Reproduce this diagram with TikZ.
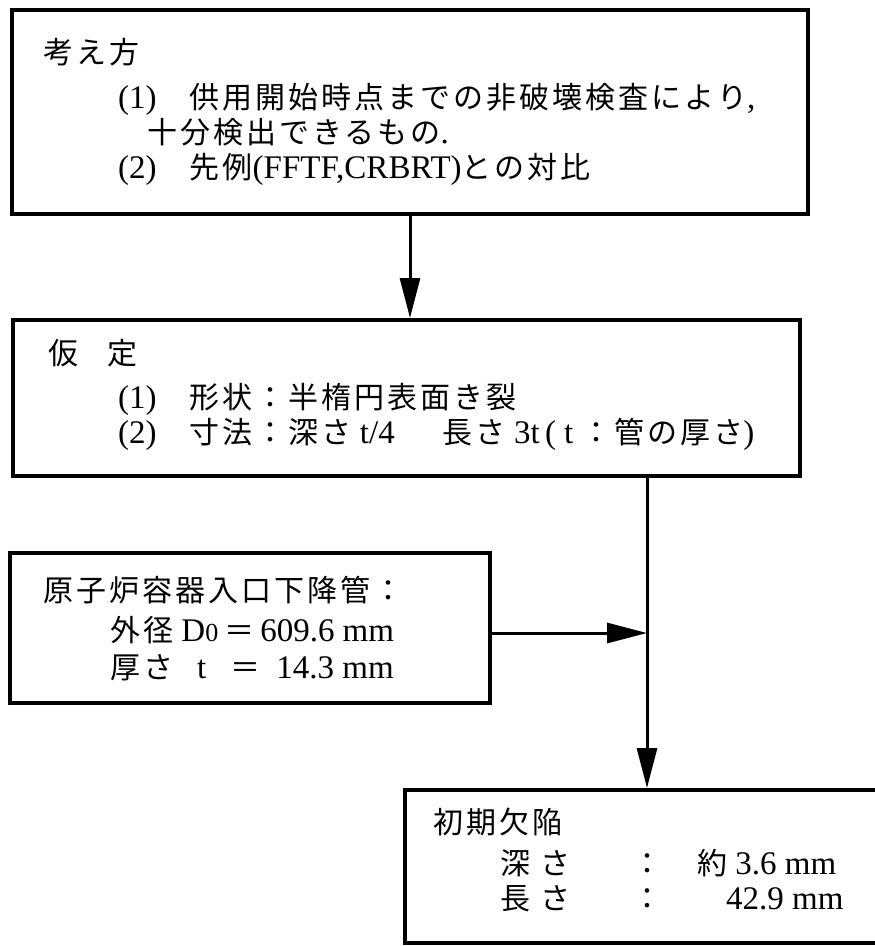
\documentclass[tikz,border=0pt]{standalone}
\usepackage{fontspec}
\setmainfont{Liberation Serif}
\newfontfamily\jpf[LetterSpace=10]{Noto Sans CJK JP}
\newcommand{\J}[1]{{\jpf\fontsize{30}{30}\selectfont #1}}
\usetikzlibrary{arrows.meta}
\begin{document}
\begin{tikzpicture}[x=1pt,y=-1pt,
  box/.style={draw, line width=4pt, rectangle, inner sep=0pt},
  txt/.style={anchor=west, inner sep=0pt, text height=26pt, text depth=4pt,
              font=\fontsize{33}{33}\selectfont},
  conn/.style={line width=3pt, -{Triangle[length=40pt,width=20pt]}},
]
\useasboundingbox (0,0) rectangle (875,946);
\clip (0,0) rectangle (875,946);

% boxes
\node[box, minimum width=796pt, minimum height=204pt] (b1) at (410,112) {};
\node[box, minimum width=787pt, minimum height=156pt] (b2) at (406.5,398) {};
\node[box, minimum width=480pt, minimum height=150pt] (b3) at (250,628) {};
\node[box, minimum width=490pt, minimum height=153pt] (b4) at (650,866.5) {};

% box 1 text
\node[txt] (t11) at (43,52) {\J{考え方}};
\node[txt] (t12) at (118,97) {(1)\hspace{33pt}\J{供用開始時点までの非破壊検査により},};
\node[txt] (t13) at (147,132) {\J{十分検出できるもの}.};
\node[txt] (t14) at (118,167) {(2)\hspace{33pt}\J{先例}(FFTF,CRBRT)\J{との対比}};

% box 2 text
\node[txt] (t21) at (48,353) {\J{仮}\hspace{29pt}\J{定}};
\node[txt] (t22) at (118,397) {(1)\hspace{33pt}\J{形状：半楕円表面き裂}};
\node[txt] (t23) at (118,432) {(2)\hspace{33pt}\J{寸法：深さ} t/4\hspace{48pt}\J{長さ} 3t\,(\hspace{8pt}t\hspace{8pt}\J{：管の厚さ})};

% box 3 text
\node[txt] (t31) at (43,590) {\J{原子炉容器入口下降管：}};
\node[txt] (t32) at (110,630) {\J{外径} D{\fontsize{26}{26}\selectfont 0}\hspace{6pt}\J{＝}\hspace{6pt}609.6 mm};
\node[txt] (t33) at (110,667) {\J{厚さ}\hspace{24pt}t\hspace{24pt}\J{＝}\hspace{16pt}14.3 mm};

% box 4 text
\node[txt] (t41) at (433,822) {\J{初期欠陥}};
\node[txt] (t42) at (500,863) {\J{深}\hspace{10pt}\J{さ}\hspace{62pt}\J{：}\hspace{35pt}\J{約} 3.6 mm};
\node[txt] (t43) at (500,898) {\J{長}\hspace{10pt}\J{さ}\hspace{62pt}\J{：}\hspace{64pt}42.9 mm};

% connectors
\coordinate (j) at (647,633);
\draw[conn] (b1.south) -- (b1.south |- b2.north);
\draw[conn] (b2.south -| j) -- (j |- b4.north);
\draw[conn] (b3.east |- j) -- (j);
\end{tikzpicture}
\end{document}
